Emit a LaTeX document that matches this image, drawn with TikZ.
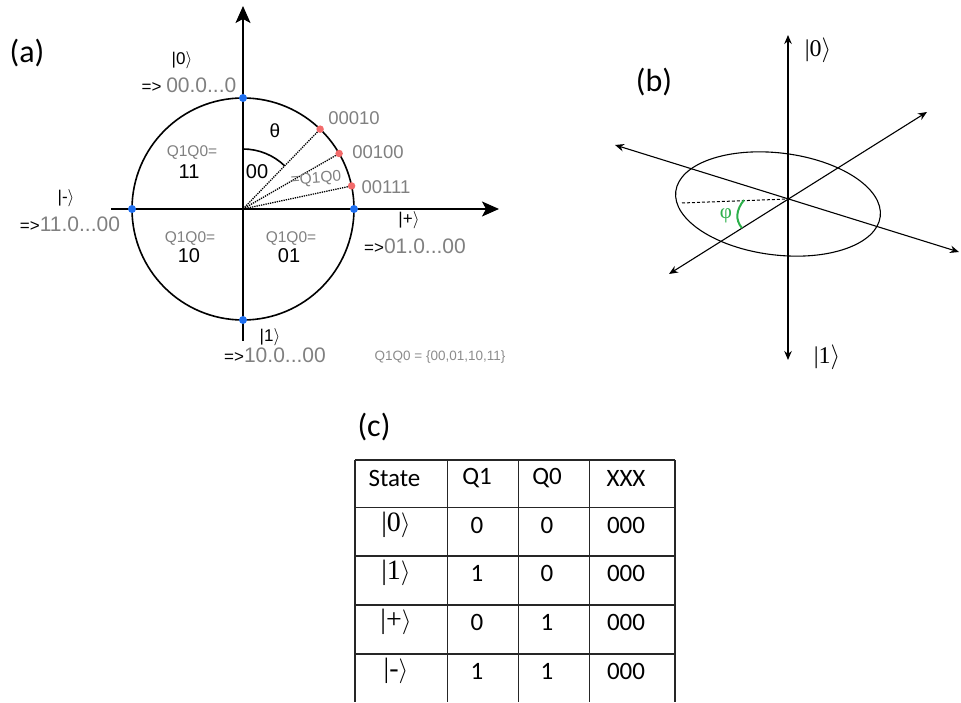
\documentclass[tikz,border=0pt]{standalone}
\usepackage{fontspec}
\setmainfont{Liberation Sans}
\newfontfamily\calfont{Carlito}
\newfontfamily\serfont{Liberation Serif}
\usetikzlibrary{arrows.meta}
\definecolor{lblgray}{HTML}{808080}
\definecolor{smallgray}{HTML}{8C8C8C}
\definecolor{dotblue}{HTML}{1F6FF0}
\definecolor{dotred}{HTML}{F26B6B}
\definecolor{phigreen}{HTML}{2DB04B}
\definecolor{gridline}{HTML}{262626}
\newcommand\fsz[1]{\fontsize{#1}{#1}\selectfont}
\newcommand\rk{\ensuremath{\rangle}}
\begin{document}
\begin{tikzpicture}[x=1pt,y=1pt,
  axis/.style={line width=1.6pt},
  bigarrow/.style={-{Stealth[length=17pt,width=15pt,inset=4pt]}},
  thinaxis/.style={line width=1.1pt,{Stealth[length=9pt,width=7.5pt]}-{Stealth[length=9pt,width=7.5pt]}},
  bluedot/.style={circle,fill=dotblue,inner sep=0pt,minimum size=8pt},
  reddot/.style={circle,fill=dotred,inner sep=0pt,minimum size=7.5pt},
  ray/.style={densely dotted,line width=1.3pt},
  panel/.style={font=\calfont\fsz{32}},
  qlbl/.style={text=lblgray,font=\fsz{15.5}},
  qval/.style={font=\fsz{20}},
  binlbl/.style={text=lblgray,font=\fsz{18.5}},
  ketlbl/.style={font=\fsz{17}},
  statelbl/.style={font=\fsz{21}},
  serket/.style={font=\serfont\fsz{24}},
  tket/.style={font=\serfont\fsz{28}},
  cell/.style={font=\calfont\fsz{25}},
  tline/.style={line width=1.4pt,draw=gridline}
]
\useasboundingbox (0,0) rectangle (961,702);

% ---------------- panel (a) ----------------
\node[panel] (pa) at (27,649) {(a)};
\coordinate (C) at (243,493);
\draw[axis] (C) circle[radius=111];
\coordinate (vb) at (243,361);
\coordinate (vt) at (243,696);
\coordinate (hl) at (111,493);
\coordinate (hr) at (499,493);
\draw[axis,bigarrow] (vb) -- (vt);
\draw[axis,bigarrow] (hl) -- (hr);

\coordinate (r1) at ([shift={(46:111)}]C);
\coordinate (r2) at ([shift={(30:111)}]C);
\coordinate (r3) at ([shift={(12:111)}]C);
\draw[ray] (C) -- (r1);
\draw[ray] (C) -- (r2);
\draw[ray] (C) -- (r3);
\draw[axis] ([shift={(90:60)}]C) arc[start angle=90,end angle=46,radius=60];

\node[reddot] (d1) at (r1) {};
\node[reddot] (d2) at (r2) {};
\node[reddot] (d3) at (r3) {};
\node[bluedot] (bt) at ([shift={(90:111)}]C) {};
\node[bluedot] (bb) at ([shift={(270:111)}]C) {};
\node[bluedot] (bl) at ([shift={(180:111)}]C) {};
\node[bluedot] (br) at ([shift={(0:111)}]C) {};

\node[font=\fsz{19}] (theta) at (275,571) {θ};
\node[qval] (z00) at (257,530) {00};
\node[qlbl,rotate=4] (eqq) at (316,523) {=Q1Q0};
\node[binlbl] (b1) at (354,584) {00010};
\node[binlbl] (b2) at (378,550) {00100};
\node[binlbl] (b3) at (386,515) {00111};

\node[qlbl] (q11l) at (192,549) {Q1Q0=};
\node[qval] (q11) at (189,530) {11};
\node[qlbl] (q10l) at (190,463) {Q1Q0=};
\node[qval] (q10) at (189,446) {10};
\node[qlbl] (q01l) at (291,463) {Q1Q0=};
\node[qval] (q01) at (289,446) {01};

\node[ketlbl] (k0) at (182,642) {|0\rk};
\node[statelbl] (s0) at (189,617) {{\fsz{17}=> }\textcolor{lblgray}{00.0...0}};
\node[ketlbl] (km) at (66,504) {|-\rk};
\node[statelbl] (sm) at (70,478) {{\fsz{17}=>}\textcolor{lblgray}{11.0...00}};
\node[ketlbl] (kp) at (409,482) {|+\rk};
\node[statelbl] (sp) at (415,456) {{\fsz{17}=>}\textcolor{lblgray}{01.0...00}};
\node[ketlbl] (k1) at (270,365) {|1\rk};
\node[statelbl] (s1) at (275,347) {{\fsz{17}=>}\textcolor{lblgray}{10.0...00}};
\node[text=smallgray,font=\fsz{13.5}] (set) at (440,345) {Q1Q0 = \{00,01,10,11\}};

% ---------------- panel (b) ----------------
\node[panel] (pb) at (654,620) {(b)};
\coordinate (B) at (788,503);
\coordinate (zt) at (788,667);
\coordinate (zb) at (788,342);
\coordinate (xa) at (615,557);
\coordinate (xb) at (959,450);
\coordinate (ya) at (669,428);
\coordinate (yb) at (927,590);
\draw[line width=1.1pt,rotate around={-7:(778,498)}] (778,498) ellipse[x radius=103,y radius=51];
\draw[thinaxis] (zb) -- (zt);
\draw[thinaxis] (xa) -- (xb);
\draw[thinaxis] (ya) -- (yb);
\coordinate (dl) at (682,499);
\draw[dashed,dash pattern=on 3pt off 2pt,line width=1pt] (dl) -- (B);
\coordinate (g1) at (744,502);
\coordinate (g2) at (742,474);
\draw[phigreen,line width=2pt] (g1) .. controls (736,492) and (735,482) .. (g2);
\node[text=phigreen,font=\serfont\fsz{21}] (phi) at (726,486) {φ};
\node[serket] (b0) at (818,652) {|0\rk};
\node[serket] (b1k) at (827,345) {|1\rk};

% ---------------- panel (c) ----------------
\node[panel] (pc) at (374,275) {(c)};
\foreach \yy/\nm in {242/h0,194.3/h1,146/h2,97/h3,48/h4}{
  \coordinate (\nm l) at (355,\yy);
  \coordinate (\nm r) at (675,\yy);
  \draw[tline] (\nm l) -- (\nm r);
}
\foreach \xx/\nm in {355/v0,447.7/v1,518.3/v2,589.3/v3,675/v4}{
  \coordinate (\nm t) at (\xx,242);
  \coordinate (\nm b) at (\xx,0);
  \draw[tline] (\nm t) -- (\nm b);
}
\node[cell,anchor=west] (hs) at (365,224) {State};
\node[cell] (hq1) at (477,224) {Q1};
\node[cell] (hq0) at (547,224) {Q0};
\node[cell] (hx) at (626,224) {XXX};

\node[tket] (c0) at (396,177) {|0\rk};
\node[cell] (c01) at (477,177) {0};
\node[cell] (c02) at (547,177) {0};
\node[cell] (c03) at (626,177) {000};

\node[tket] (c1) at (396,129) {|1\rk};
\node[cell] (c11) at (477,129) {1};
\node[cell] (c12) at (547,129) {0};
\node[cell] (c13) at (626,129) {000};

\node[tket] (c2) at (396,80) {|+\rk};
\node[cell] (c21) at (477,80) {0};
\node[cell] (c22) at (547,80) {1};
\node[cell] (c23) at (626,80) {000};

\node[tket] (c3) at (396,31) {|-\rk};
\node[cell] (c31) at (477,31) {1};
\node[cell] (c32) at (547,31) {1};
\node[cell] (c33) at (626,31) {000};
\end{tikzpicture}
\end{document}
